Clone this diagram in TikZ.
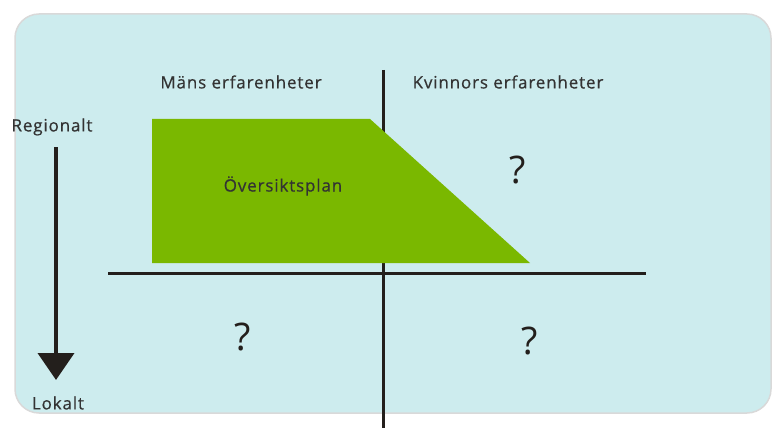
\documentclass[tikz,border=0pt]{standalone}
\usepackage{fontspec}
\setmainfont{Open Sans}
\newfontfamily\lblfont[LetterSpace=5, FakeBold=0.6]{Open Sans}
\usetikzlibrary{arrows.meta}
\definecolor{bgc}{HTML}{CDECEE}
\definecolor{greenc}{HTML}{7AB800}
\definecolor{linec}{HTML}{231F1C}
\definecolor{textc}{HTML}{333333}
\tikzset{
  lbl/.style={text=textc, font=\lblfont\fontsize{17}{20}\selectfont, inner sep=0pt},
  qm/.style={text=linec, font=\fontsize{38}{40}\selectfont, inner sep=0pt},
  axis/.style={draw=linec, line width=3pt},
  arr/.style={draw=linec, line width=4pt, -{Triangle[width=36pt,length=27pt]}},
}
\begin{document}
\begin{tikzpicture}[x=1pt,y=-1pt]
\useasboundingbox (0,0) rectangle (772,428);
\draw[fill=bgc, draw=black!15, line width=1.5pt, rounded corners=24pt] (15,14) rectangle (771,413);
% axes
\coordinate (vtop) at (383,70);
\coordinate (vbot) at (383,428);
\coordinate (hl) at (108,273);
\coordinate (hr) at (646,273);
\draw[axis] (vtop) -- (vbot);
\draw[axis] (hl) -- (hr);
% green shape
\fill[greenc] (152,119) -- (370,119) -- (530,263) -- (152,263) -- cycle;
% labels
\node[lbl] (mens) at (241,82) {Mäns erfarenheter};
\node[lbl] (kvin) at (508,82) {Kvinnors erfarenheter};
\node[lbl] (plan) at (283,186) {Översiktsplan};
\node[lbl] (reg) at (52,127) {Regionalt};
\node[lbl] (lok) at (58,403) {Lokalt};
\node[qm] (q1) at (518,170) {?};
\node[qm] (q2) at (243,337) {?};
\node[qm] (q3) at (530,341) {?};
% arrow
\coordinate (a1) at (56,147);
\coordinate (a2) at (56,380);
\draw[arr] (a1) -- (a2);
\end{tikzpicture}
\end{document}
